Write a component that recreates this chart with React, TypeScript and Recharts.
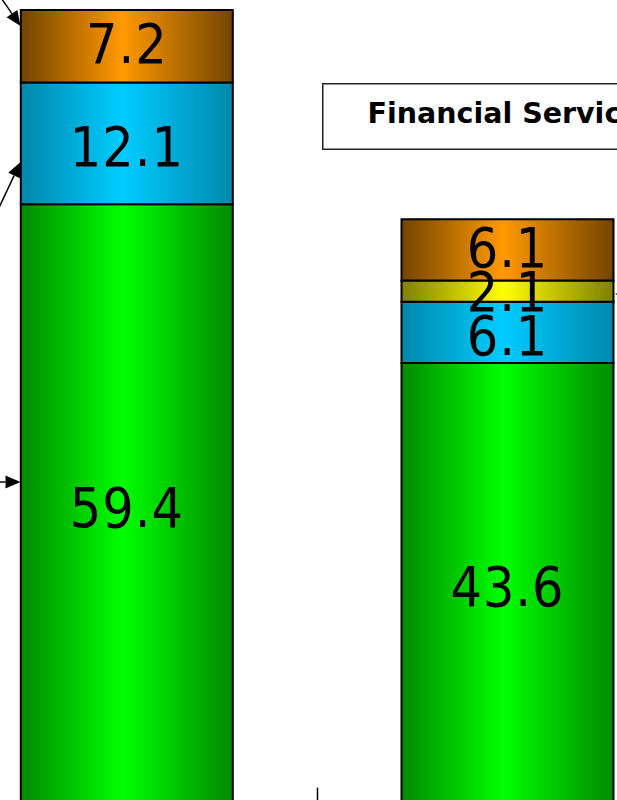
import React from 'react';
import { BarChart, Bar, XAxis, YAxis, LabelList, ReferenceLine } from 'recharts';

const categories = ['Total', 'Financial Services'];
const greenValues = [59.4, 43.6];
const blueValues = [12.1, 6.1];
const yellowValues: (number | null)[] = [null, 2.1];
const orangeValues = [7.2, 6.1];
const separatorTickValue = 1.4;
const titleText = 'Financial Services';

const data = categories.map((name, i) => ({
  name,
  green: greenValues[i],
  blue: blueValues[i],
  yellow: yellowValues[i],
  orange: orangeValues[i],
}));

const gradients = [
  { id: 'gGreen', dark: '#008a00', bright: '#00ff00' },
  { id: 'gBlue', dark: '#0088ac', bright: '#00ccff' },
  { id: 'gYellow', dark: '#7f7f00', bright: '#ffff00' },
  { id: 'gOrange', dark: '#734400', bright: '#ff9900' },
];

const makeLabel = (dy: number) => (props: any) => {
  const { x, y, width, height, value } = props;
  if (value == null) return null;
  const cx = Number(x) + Number(width) / 2;
  const cy = Number(y) + Number(height) / 2;
  return (
    <text
      x={cx}
      y={cy + 20 + dy}
      textAnchor="middle"
      fontFamily="'DejaVu Sans Condensed', 'DejaVu Sans', sans-serif"
      style={{ fontStretch: 'condensed', letterSpacing: 1 }}
      fontSize={55}
      fill="#000"
    >
      {Number(value).toFixed(1)}
    </text>
  );
};

function Arrow({ x1, y1, x2, y2 }: { x1: number; y1: number; x2: number; y2: number }) {
  const dx = x2 - x1;
  const dy = y2 - y1;
  const len = Math.sqrt(dx * dx + dy * dy);
  const ux = dx / len;
  const uy = dy / len;
  const hl = 15;
  const hw = 6.5;
  const bx = x2 - ux * hl;
  const by = y2 - uy * hl;
  const p1 = `${x2},${y2}`;
  const p2 = `${bx - uy * hw},${by + ux * hw}`;
  const p3 = `${bx + uy * hw},${by - ux * hw}`;
  return (
    <g>
      <line x1={x1} y1={y1} x2={bx} y2={by} stroke="#000" strokeWidth={1.5} />
      <polygon points={`${p1} ${p2} ${p3}`} fill="#000" />
    </g>
  );
}

export default function App() {
  return (
    <div
      style={{
        position: 'absolute',
        left: 0,
        top: 0,
        width: 617,
        height: 800,
        overflow: 'hidden',
        background: '#fff',
      }}
    >
      <div style={{ position: 'absolute', left: -100, top: -50 }}>
        <BarChart
          width={818}
          height={872}
          data={data}
          margin={{ top: 46.9, left: 36.8, right: 19.8, bottom: 20.3 }}
          barSize={212}
        >
          <defs>
            {gradients.map((g) => (
              <linearGradient key={g.id} id={g.id} x1="0" y1="0" x2="1" y2="0">
                <stop offset="0" stopColor={g.dark} />
                <stop offset="0.48" stopColor={g.bright} />
                <stop offset="1" stopColor={g.dark} />
              </linearGradient>
            ))}
          </defs>
          <XAxis dataKey="name" hide />
          <YAxis domain={[0, 80]} hide allowDataOverflow />
          <Bar dataKey="green" stackId="s" fill="url(#gGreen)" stroke="#000" strokeWidth={2} isAnimationActive={false}>
            <LabelList dataKey="green" content={makeLabel(4)} />
          </Bar>
          <Bar dataKey="blue" stackId="s" fill="url(#gBlue)" stroke="#000" strokeWidth={2} isAnimationActive={false}>
            <LabelList dataKey="blue" content={makeLabel(3)} />
          </Bar>
          <Bar dataKey="yellow" stackId="s" fill="url(#gYellow)" stroke="#000" strokeWidth={2} isAnimationActive={false}>
            <LabelList dataKey="yellow" content={makeLabel(0)} />
          </Bar>
          <Bar dataKey="orange" stackId="s" fill="url(#gOrange)" stroke="#000" strokeWidth={2} isAnimationActive={false}>
            <LabelList dataKey="orange" content={makeLabel(-3)} />
          </Bar>
          <ReferenceLine
            segment={[
              { x: categories[0], y: 0 },
              { x: categories[0], y: separatorTickValue },
            ]}
            position="end"
            stroke="#000"
            strokeWidth={1.5}
            ifOverflow="visible"
          />
        </BarChart>
      </div>
      <svg
        width={617}
        height={800}
        style={{ position: 'absolute', left: 0, top: 0, pointerEvents: 'none' }}
      >
        <rect x={322.75} y={83.75} width={376} height={65.5} fill="#fff" stroke="#222" strokeWidth={1.5} />
        <text
          x={367.5}
          y={123.3}
          fontFamily="'DejaVu Sans', sans-serif"
          fontWeight="bold"
          fontSize={28.5}
          fill="#000"
        >
          {titleText}
        </text>
        <Arrow x1={-3} y1={-8} x2={20.5} y2={26} />
        <Arrow x1={-5} y1={216} x2={20.5} y2={162} />
        <Arrow x1={-10} y1={482} x2={20.5} y2={482} />
        <Arrow x1={660} y1={294} x2={615} y2={294} />
      </svg>
    </div>
  );
}
